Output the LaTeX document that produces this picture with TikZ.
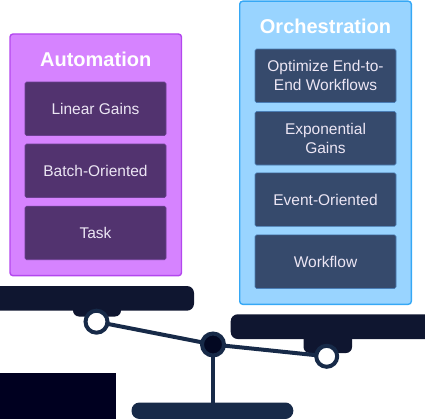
\documentclass[tikz,border=0pt]{standalone}
\usepackage{fontspec}
\setmainfont{Liberation Sans}
\definecolor{pfill}{HTML}{D683FF}
\definecolor{pborder}{HTML}{B347EE}
\definecolor{pinner}{HTML}{52336F}
\definecolor{pinnerb}{HTML}{6A3F90}
\definecolor{bfill}{HTML}{99D4FF}
\definecolor{bborder}{HTML}{36A8F5}
\definecolor{binner}{HTML}{364A6C}
\definecolor{binnerb}{HTML}{4A7DB5}
\definecolor{plat}{HTML}{0F1630}
\definecolor{beam}{HTML}{172A48}
\definecolor{pivotc}{HTML}{030822}
\definecolor{blk}{HTML}{000020}
\definecolor{itext}{HTML}{ECE6F4}
\tikzset{
  outerp/.style={draw=pborder, fill=pfill, line width=1.4pt, rounded corners=3pt},
  outerb/.style={draw=bborder, fill=bfill, line width=1.4pt, rounded corners=3pt},
  pbox/.style={draw=pinnerb, fill=pinner, line width=0.6pt, rounded corners=1.5pt,
    minimum width=141pt, minimum height=53.5pt, inner sep=0pt, text=itext,
    font=\fontsize{15.5}{19}\selectfont, align=center},
  bbox/.style={pbox, draw=binnerb, fill=binner},
  titletext/.style={text=white, font=\fontsize{20}{24}\selectfont\bfseries, inner sep=0pt, anchor=base},
  platform/.style={fill=plat, rounded corners=7pt},
  ring/.style={draw=beam, line width=4pt, fill=white},
}
\begin{document}
\begin{tikzpicture}[x=1pt,y=-1pt]
\useasboundingbox (0,0) rectangle (425,419);
% outer boxes
\path[outerp] (10,34) rectangle (181.5,275.7);
\path[outerb] (239.7,1.2) rectangle (411.3,304.3);
\node[titletext] (tauto) at (95.7,66.7) {Automation};
\node[titletext] (torch) at (325.5,33.3) {Orchestration};
% purple inner
\node[pbox] (lin) at (95.5,108.8) {Linear Gains};
\node[pbox] (bat) at (95.5,170.8) {Batch-Oriented};
\node[pbox] (tsk) at (95.5,233) {Task};
% blue inner
\node[bbox] (opt) at (325.5,75.8) {Optimize End-to-\\End Workflows};
\node[bbox] (exp) at (325.5,138.3) {Exponential\\Gains};
\node[bbox] (evt) at (325.5,199.7) {Event-Oriented};
\node[bbox] (wfl) at (325.5,261.7) {Workflow};
% platforms
\path[platform] (-8,286) rectangle (194,310.7);
\path[fill=plat, rounded corners=6pt] (73,300) rectangle (121,316.5);
\path[platform] (230.7,314.3) rectangle (432,339);
\path[fill=plat, rounded corners=6pt] (303.5,330) rectangle (352,353);
% black rectangle
\path[fill=blk] (0,372.5) rectangle (115.7,425);
% base
\path[fill=beam, rounded corners=8pt] (131.5,402.5) rectangle (293.3,419);
% beam and post
\coordinate (lc) at (96.5,321.7);
\coordinate (rc) at (326.7,356.3);
\coordinate (pv) at (213,344.5);
\coordinate (pb) at (213,404);
\draw[beam, line width=4.7pt] (pv) -- (pb);
\draw[beam, line width=4pt] (lc) -- (pv) -- (rc);
\node[circle, ring, minimum size=22pt, inner sep=0pt] (lring) at (lc) {};
\node[circle, ring, minimum size=21pt, inner sep=0pt] (rring) at (rc) {};
\node[circle, draw=beam, fill=pivotc, line width=4pt, minimum size=22pt, inner sep=0pt] (piv) at (pv) {};
\end{tikzpicture}
\end{document}
